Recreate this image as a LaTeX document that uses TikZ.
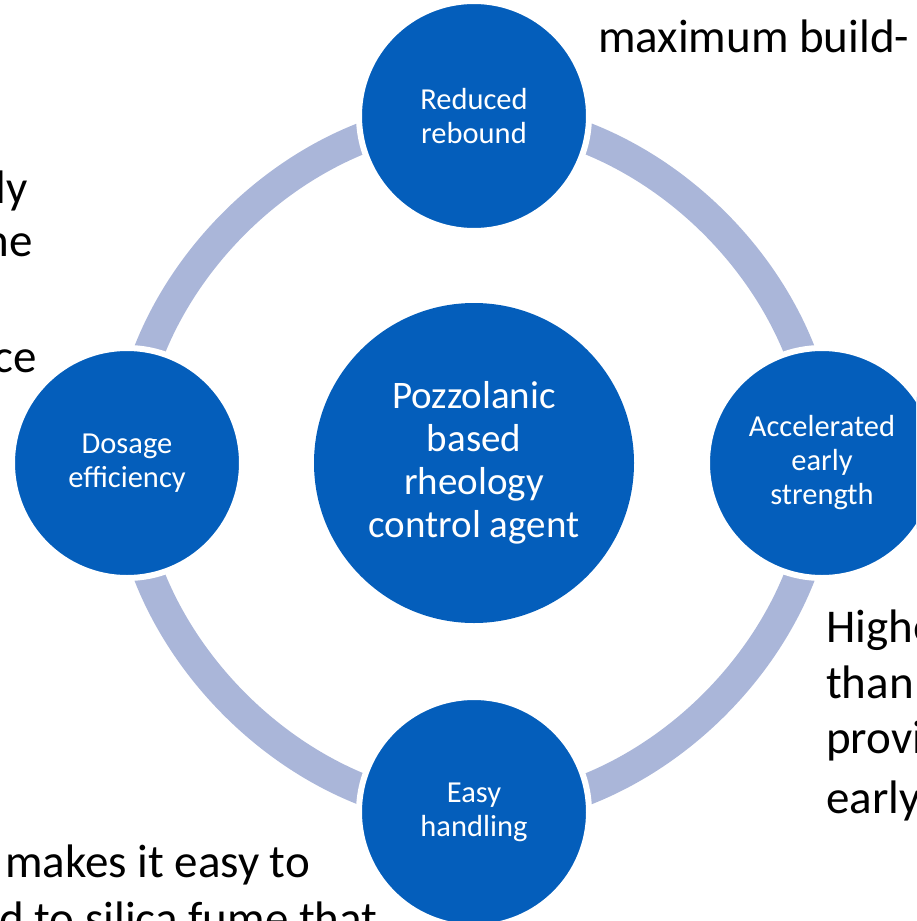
\documentclass[tikz,border=0pt]{standalone}
\usepackage{fontspec}
\setmainfont{Carlito}
\usetikzlibrary{backgrounds}
\definecolor{discblue}{HTML}{045EBB}
\definecolor{ringblue}{HTML}{AAB6D9}
\begin{document}
\begin{tikzpicture}[x=1pt,y=-1pt]

      \path[use as bounding box] (0,0) rectangle (916,921);
      \clip (0,0) rectangle (916,921);

      \begin{scope}[every node/.style={circle, fill=discblue, draw=white, line width=6pt, text=white, align=center, minimum size=230pt, inner sep=0pt, font=\fontsize{30.5}{34}\selectfont}]
        \node (1) at (474,116) {Reduced\\rebound};
        \node (2) at (822,463) {Accelerated\\early\\strength};
        \node (3) at (474,812) {Easy\\handling};
        \node (4) at (127,463) {Dosage\\efficiency};
        \node[minimum size=320pt, draw=none, font=\fontsize{39}{43}\selectfont] (0) at (474,463) {Pozzolanic\\based\\rheology\\control agent};
      \end{scope}

      \begin{scope}[on background layer, every edge/.style={draw=ringblue, line width=31pt, bend left=45, looseness=.92}]
        \path (1.center) edge (2.center);
        \path (2.center) edge (3.center);
        \path (3.center) edge (4.center);
        \path (4.center) edge (1.center);
      \end{scope}

      \begin{scope}[every node/.style={anchor=base west, inner sep=0pt, font=\fontsize{47}{57}\selectfont}]
        \node (a) at (598,52) {maximum build-};
        \node[anchor=base east] (b) at (28,203) {ly};
        \node[anchor=base east] (c) at (33,256) {ne};
        \node[anchor=base east] (d) at (37,372) {ce};
        \node (e) at (826,642) {Highe};
        \node (f) at (826,698) {than};
        \node (g) at (826,753) {provi};
        \node (h) at (826,813) {early};
        \node (i) at (5,877) {makes it easy to};
        \node (j) at (-1,934) {d to silica fume that};
      \end{scope}

    \end{tikzpicture}
\end{document}
